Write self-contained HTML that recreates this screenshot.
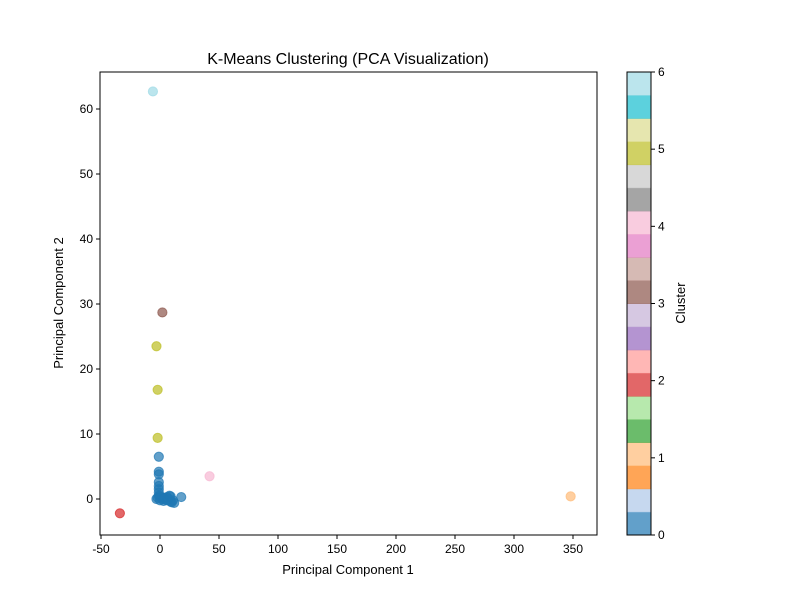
<!DOCTYPE html>
<html><head><meta charset="utf-8"><style>
body{margin:0;background:#fff;font-family:"Liberation Sans","DejaVu Sans",sans-serif}
</style></head><body>
<svg id="c" width="800" height="600" xmlns="http://www.w3.org/2000/svg" font-family="Liberation Sans, DejaVu Sans, sans-serif"></svg>
<script>
const clusterX=[-6,2,-3,-2,-2,42,348,-34,
 -1,-1,-1,-1,-1,-1,-1,-1,-3,-2,0,1,2,3,4,5,6,7,8,9,10,11,12,18,0,3,6,9];
const clusterY=[62.7,28.7,23.5,16.8,9.4,3.5,0.4,-2.2,
 6.5,4.2,3.8,2.6,2.0,1.5,1.0,0.5,0,0.2,-0.2,0.3,0,-0.3,0.2,-0.1,0.3,0,0.5,-0.4,-0.5,-0.2,-0.6,0.3,0.4,0.1,-0.2,0.4];
const clusterId=[6,3,5,5,5,4,1,2,0,0,0,0,0,0,0,0,0,0,0,0,0,0,0,0,0,0,0,0,0,0,0,0,0,0,0,0];
const xTicks=[-50,0,50,100,150,200,250,300,350];
const yTicks=[0,10,20,30,40,50,60];
const cbTicks=[0,1,2,3,4,5,6];
const clusterColors=["#1f77b4","#ffbb78","#d62728","#8c564b","#f7b6d2","#bcbd22","#9edae5"];
const tab20=["#1f77b4","#aec7e8","#ff7f0e","#ffbb78","#2ca02c","#98df8a","#d62728","#ff9896","#9467bd","#c5b0d5","#8c564b","#c49c94","#e377c2","#f7b6d2","#7f7f7f","#c7c7c7","#bcbd22","#dbdb8d","#17becf","#9edae5"];
const L=100,R=597,T=72,B=535;
const sx=v=>160+v*1.18, sy=v=>499-v*6.5;
const svg=document.getElementById('c');const NS="http://www.w3.org/2000/svg";
function el(t,a,p){const e=document.createElementNS(NS,t);for(const k in a)e.setAttribute(k,a[k]);(p||svg).appendChild(e);return e;}
function txt(x,y,s,a,p){const e=el('text',Object.assign({x:x,y:y,'font-size':13,fill:'#000'},a||{}),p);e.textContent=s;return e;}
const pts=el('g',{});


clusterX.forEach((x,i)=>{const c=el('circle',{cx:sx(x),cy:sy(clusterY[i]),r:4.6,fill:clusterColors[clusterId[i]],'fill-opacity':0.7,stroke:clusterColors[clusterId[i]],'stroke-opacity':0.7},pts);

});
const fr=el('rect',{x:L,y:T,width:R-L,height:B-T,fill:'none',stroke:'#000','stroke-width':1});


xTicks.forEach(v=>{el('line',{x1:sx(v),x2:sx(v),y1:B,y2:B+4,stroke:'#000'});const t=txt(sx(v),B+18,String(v),{'text-anchor':'middle','font-size':12});

});
yTicks.forEach(v=>{el('line',{x1:L-4,x2:L,y1:sy(v),y2:sy(v),stroke:'#000'});const t=txt(L-7,sy(v)+4,String(v),{'text-anchor':'end','font-size':12});

});
const ti=txt(348,64,'K-Means Clustering (PCA Visualization)',{'text-anchor':'middle','font-size':16});


const xl=txt(348,574,'Principal Component 1',{'text-anchor':'middle'});


const yl=txt(0,0,'Principal Component 2',{'text-anchor':'middle',transform:'translate(63,303) rotate(-90)'});


const cb=el('g',{});


const cx0=627,cw=24,segH=(B-T)/20;
tab20.forEach((c,i)=>{el('rect',{x:cx0,y:B-(i+1)*segH,width:cw,height:segH+0.5,fill:c,'fill-opacity':0.7},cb);});
el('rect',{x:cx0,y:T,width:cw,height:B-T,fill:'none',stroke:'#000'},cb);
cbTicks.forEach(v=>{const y=B-v*(B-T)/6;el('line',{x1:cx0+cw,x2:cx0+cw+4,y1:y,y2:y,stroke:'#000'},cb);txt(cx0+cw+7,y+4,String(v),{'font-size':12},cb);});
const cl=txt(0,0,'Cluster',{'text-anchor':'middle',transform:'translate(685,303) rotate(-90)'});


</script>
</body></html>
